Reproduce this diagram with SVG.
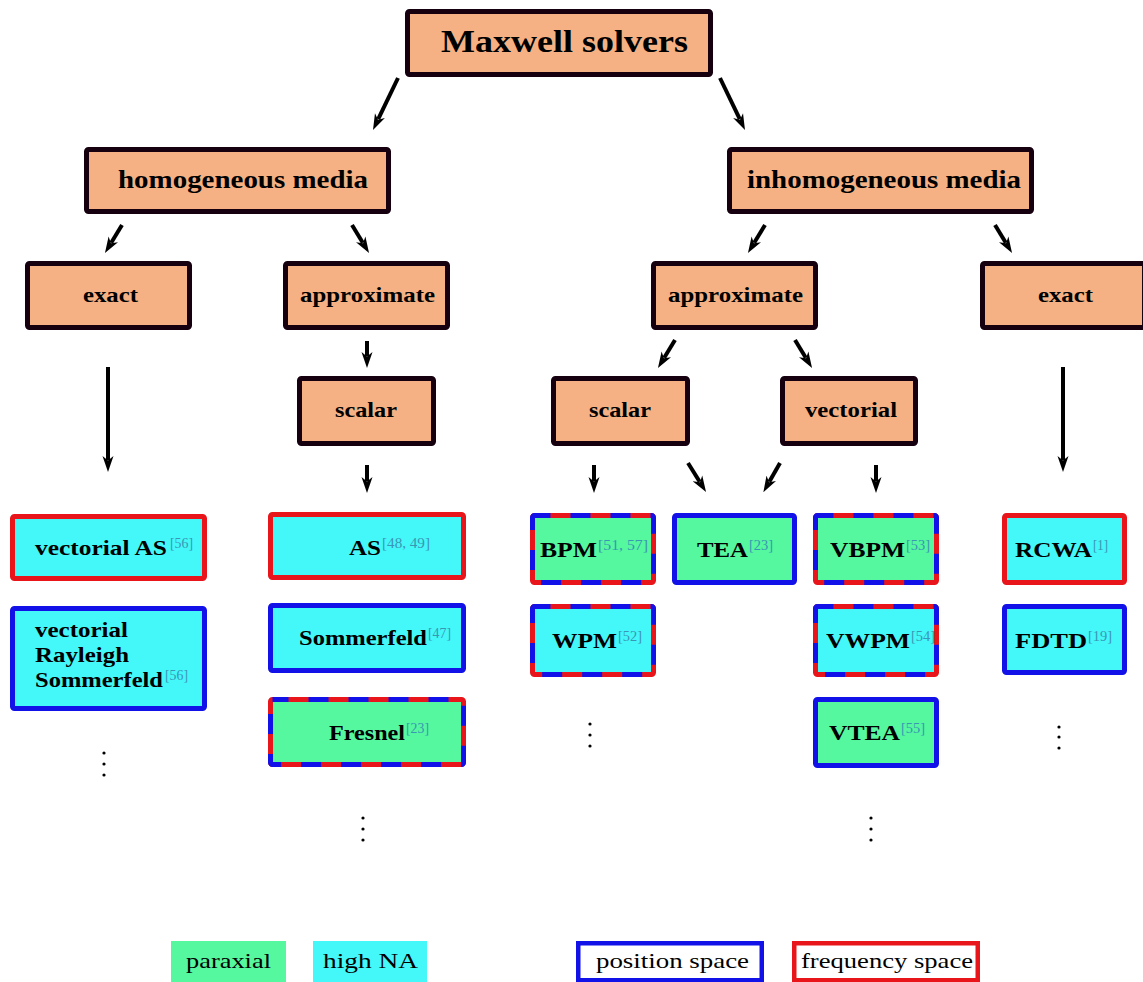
<svg xmlns="http://www.w3.org/2000/svg" width="1143" height="982" viewBox="0 0 1143 982">
<style>
.o{fill:#F5B183;stroke:#160010;stroke-width:5}
.hi{fill:#44F8F9}
.pa{fill:#55F89E}
.rb{stroke:#E8161A;stroke-width:5}
.bb{stroke:#1212E8;stroke-width:5}
.db{fill:none;stroke:#1212E8;stroke-width:5;stroke-dasharray:20 20;stroke-dashoffset:4}
.t{font-family:"Liberation Serif","Times New Roman",serif;font-weight:bold;fill:#000;font-size:21px}
.big{font-size:31px}
.med{font-size:25px}
.s{font-family:"Liberation Serif","Times New Roman",serif;font-size:15px;fill:#3A96B4}
.lg{font-family:"Liberation Serif","Times New Roman",serif;font-size:22px;fill:#000}
.c{stroke:#000;stroke-width:4;fill:none;marker-end:url(#ah)}
.d{fill:#000}
</style>
<defs>
<marker id="ah" markerUnits="userSpaceOnUse" markerWidth="16" markerHeight="12" refX="4" refY="5.5" orient="auto" viewBox="0 0 16 11">
<path d="M0,0 L16,5.5 L0,11 L4.5,5.5 z" fill="#000"/>
</marker>
</defs>

<g id="connectors">
<line class="c" x1="398" y1="78" x2="378.2" y2="119.2"/>
<line class="c" x1="720" y1="78" x2="739.8" y2="119.2"/>
<line class="c" x1="122" y1="225" x2="111.2" y2="242.7"/>
<line class="c" x1="352" y1="225" x2="362.8" y2="242.7"/>
<line class="c" x1="765" y1="225" x2="754.2" y2="242.7"/>
<line class="c" x1="995" y1="225" x2="1005.8" y2="242.7"/>
<line class="c" x1="367" y1="341" x2="367" y2="356"/>
<line class="c" x1="675" y1="340" x2="664.2" y2="357.7"/>
<line class="c" x1="795" y1="340" x2="805.8" y2="357.7"/>
<line class="c" x1="108" y1="367" x2="108" y2="460"/>
<line class="c" x1="1063" y1="367" x2="1063" y2="460"/>
<line class="c" x1="367" y1="465" x2="367" y2="481"/>
<line class="c" x1="594" y1="465" x2="594" y2="481"/>
<line class="c" x1="688" y1="463" x2="699.7" y2="481.8"/>
<line class="c" x1="780" y1="463" x2="769.3" y2="481.8"/>
<line class="c" x1="876" y1="465" x2="876" y2="481"/>
</g>

<g id="maxwell">
<rect class="o" x="407.5" y="11.5" width="303" height="63" rx="2"/>
<text class="t big" x="441" y="52" textLength="247" lengthAdjust="spacingAndGlyphs">Maxwell solvers</text>
</g>
<g id="homogeneous">
<rect class="o" x="86.5" y="149.5" width="302" height="62" rx="2"/>
<text class="t med" x="118" y="188" textLength="250" lengthAdjust="spacingAndGlyphs">homogeneous media</text>
</g>
<g id="inhomogeneous">
<rect class="o" x="729.5" y="149.5" width="302" height="62" rx="2"/>
<text class="t med" x="747" y="188" textLength="274" lengthAdjust="spacingAndGlyphs">inhomogeneous media</text>
</g>
<g id="exact-left">
<rect class="o" x="27.5" y="263.5" width="162" height="64" rx="2"/>
<text class="t" x="83" y="302" textLength="55" lengthAdjust="spacingAndGlyphs">exact</text>
</g>
<g id="approx-left">
<rect class="o" x="285.5" y="263.5" width="162" height="64" rx="2"/>
<text class="t" x="300" y="302" textLength="135" lengthAdjust="spacingAndGlyphs">approximate</text>
</g>
<g id="approx-right">
<rect class="o" x="653.5" y="263.5" width="162" height="64" rx="2"/>
<text class="t" x="668" y="302" textLength="135" lengthAdjust="spacingAndGlyphs">approximate</text>
</g>
<g id="exact-right">
<rect class="o" x="982.5" y="263.5" width="162" height="64" rx="2"/>
<text class="t" x="1038" y="302" textLength="55" lengthAdjust="spacingAndGlyphs">exact</text>
</g>
<g id="scalar-left">
<rect class="o" x="299.5" y="378.5" width="134" height="65" rx="2"/>
<text class="t" x="335" y="417" textLength="62" lengthAdjust="spacingAndGlyphs">scalar</text>
</g>
<g id="scalar-right">
<rect class="o" x="553.5" y="378.5" width="134" height="65" rx="2"/>
<text class="t" x="589" y="417" textLength="62" lengthAdjust="spacingAndGlyphs">scalar</text>
</g>
<g id="vectorial">
<rect class="o" x="782.5" y="378.5" width="133" height="65" rx="2"/>
<text class="t" x="805" y="417" textLength="92" lengthAdjust="spacingAndGlyphs">vectorial</text>
</g>

<g id="vectorial-as">
<rect class="hi rb" x="12.5" y="516.5" width="192" height="62" rx="2"/>
<text class="t" x="35" y="555" textLength="132" lengthAdjust="spacingAndGlyphs">vectorial AS</text>
<text class="s" x="170" y="548" textLength="23" lengthAdjust="spacingAndGlyphs">[56]</text>
</g>
<g id="vectorial-rs">
<rect class="hi bb" x="12.5" y="608.5" width="192" height="100" rx="2"/>
<text class="t" x="35" y="637" textLength="93" lengthAdjust="spacingAndGlyphs">vectorial</text>
<text class="t" x="35" y="662" textLength="94" lengthAdjust="spacingAndGlyphs">Rayleigh</text>
<text class="t" x="35" y="687" textLength="128" lengthAdjust="spacingAndGlyphs">Sommerfeld</text>
<text class="s" x="165" y="680" textLength="23" lengthAdjust="spacingAndGlyphs">[56]</text>
</g>
<g id="as">
<rect class="hi rb" x="270.5" y="514.5" width="193" height="63" rx="2"/>
<text class="t" x="349" y="555" textLength="32" lengthAdjust="spacingAndGlyphs">AS</text>
<text class="s" x="382" y="548" textLength="48" lengthAdjust="spacingAndGlyphs">[48, 49]</text>
</g>
<g id="sommerfeld">
<rect class="hi bb" x="270.5" y="605.5" width="193" height="65" rx="2"/>
<text class="t" x="299" y="645" textLength="128" lengthAdjust="spacingAndGlyphs">Sommerfeld</text>
<text class="s" x="428" y="638" textLength="23" lengthAdjust="spacingAndGlyphs">[47]</text>
</g>
<g id="fresnel">
<rect class="pa rb" x="270.5" y="699.5" width="193" height="65" rx="2"/>
<rect class="db" x="270.5" y="699.5" width="193" height="65" rx="2"/>
<text class="t" x="329" y="740" textLength="76" lengthAdjust="spacingAndGlyphs">Fresnel</text>
<text class="s" x="406" y="733" textLength="23" lengthAdjust="spacingAndGlyphs">[23]</text>
</g>
<g id="bpm">
<rect class="pa rb" x="532.5" y="515.5" width="121" height="67" rx="2"/>
<rect class="db" x="532.5" y="515.5" width="121" height="67" rx="2"/>
<text class="t" x="540" y="557" textLength="57" lengthAdjust="spacingAndGlyphs">BPM</text>
<text class="s" x="598" y="550" textLength="50" lengthAdjust="spacingAndGlyphs">[51, 57]</text>
</g>
<g id="tea">
<rect class="pa bb" x="674.5" y="515.5" width="120" height="67" rx="2"/>
<text class="t" x="697" y="557" textLength="51" lengthAdjust="spacingAndGlyphs">TEA</text>
<text class="s" x="749" y="550" textLength="24" lengthAdjust="spacingAndGlyphs">[23]</text>
</g>
<g id="vbpm">
<rect class="pa rb" x="815.5" y="515.5" width="121" height="67" rx="2"/>
<rect class="db" x="815.5" y="515.5" width="121" height="67" rx="2"/>
<text class="t" x="830" y="557" textLength="75" lengthAdjust="spacingAndGlyphs">VBPM</text>
<text class="s" x="906" y="550" textLength="24" lengthAdjust="spacingAndGlyphs">[53]</text>
</g>
<g id="wpm">
<rect class="hi rb" x="532.5" y="606.5" width="121" height="68" rx="2"/>
<rect class="db" x="532.5" y="606.5" width="121" height="68" rx="2"/>
<text class="t" x="552" y="648" textLength="65" lengthAdjust="spacingAndGlyphs">WPM</text>
<text class="s" x="618" y="641" textLength="24" lengthAdjust="spacingAndGlyphs">[52]</text>
</g>
<g id="vwpm">
<rect class="hi rb" x="815.5" y="606.5" width="121" height="68" rx="2"/>
<rect class="db" x="815.5" y="606.5" width="121" height="68" rx="2"/>
<text class="t" x="826" y="648" textLength="84" lengthAdjust="spacingAndGlyphs">VWPM</text>
<text class="s" x="911" y="641" textLength="24" lengthAdjust="spacingAndGlyphs">[54]</text>
</g>
<g id="vtea">
<rect class="pa bb" x="815.5" y="699.5" width="121" height="66" rx="2"/>
<text class="t" x="829" y="740" textLength="71" lengthAdjust="spacingAndGlyphs">VTEA</text>
<text class="s" x="901" y="733" textLength="24" lengthAdjust="spacingAndGlyphs">[55]</text>
</g>
<g id="rcwa">
<rect class="hi rb" x="1004.5" y="515.5" width="120" height="67" rx="2"/>
<text class="t" x="1015" y="557" textLength="77" lengthAdjust="spacingAndGlyphs">RCWA</text>
<text class="s" x="1093" y="550" textLength="15" lengthAdjust="spacingAndGlyphs">[1]</text>
</g>
<g id="fdtd">
<rect class="hi bb" x="1004.5" y="606.5" width="120" height="66" rx="2"/>
<text class="t" x="1015" y="648" textLength="72" lengthAdjust="spacingAndGlyphs">FDTD</text>
<text class="s" x="1088" y="641" textLength="24" lengthAdjust="spacingAndGlyphs">[19]</text>
</g>

<g id="dots">
<circle class="d" cx="104" cy="753" r="1.6"/><circle class="d" cx="104" cy="764" r="1.6"/><circle class="d" cx="104" cy="775" r="1.6"/>
<circle class="d" cx="363" cy="818" r="1.6"/><circle class="d" cx="363" cy="829" r="1.6"/><circle class="d" cx="363" cy="840" r="1.6"/>
<circle class="d" cx="590" cy="724" r="1.6"/><circle class="d" cx="590" cy="735" r="1.6"/><circle class="d" cx="590" cy="746" r="1.6"/>
<circle class="d" cx="871" cy="818" r="1.6"/><circle class="d" cx="871" cy="829" r="1.6"/><circle class="d" cx="871" cy="840" r="1.6"/>
<circle class="d" cx="1059" cy="727" r="1.6"/><circle class="d" cx="1059" cy="737" r="1.6"/><circle class="d" cx="1059" cy="748" r="1.6"/>
</g>

<g id="legend">
<g id="legend-paraxial">
<rect class="pa" x="171" y="941" width="115" height="41"/>
<text class="lg" x="186" y="968" textLength="85" lengthAdjust="spacingAndGlyphs">paraxial</text>
</g>
<g id="legend-highna">
<rect class="hi" x="313" y="941" width="114" height="41"/>
<text class="lg" x="323" y="968" textLength="95" lengthAdjust="spacingAndGlyphs">high NA</text>
</g>
<g id="legend-position">
<rect x="578.25" y="943.25" width="183.5" height="37" fill="#fff" stroke="#1212E8" stroke-width="4.5"/>
<text class="lg" x="596" y="968" textLength="153" lengthAdjust="spacingAndGlyphs">position space</text>
</g>
<g id="legend-frequency">
<rect x="794.25" y="943.25" width="183.5" height="37" fill="#fff" stroke="#E8161A" stroke-width="4.5"/>
<text class="lg" x="801" y="968" textLength="172" lengthAdjust="spacingAndGlyphs">frequency space</text>
</g>
</g>
</svg>
